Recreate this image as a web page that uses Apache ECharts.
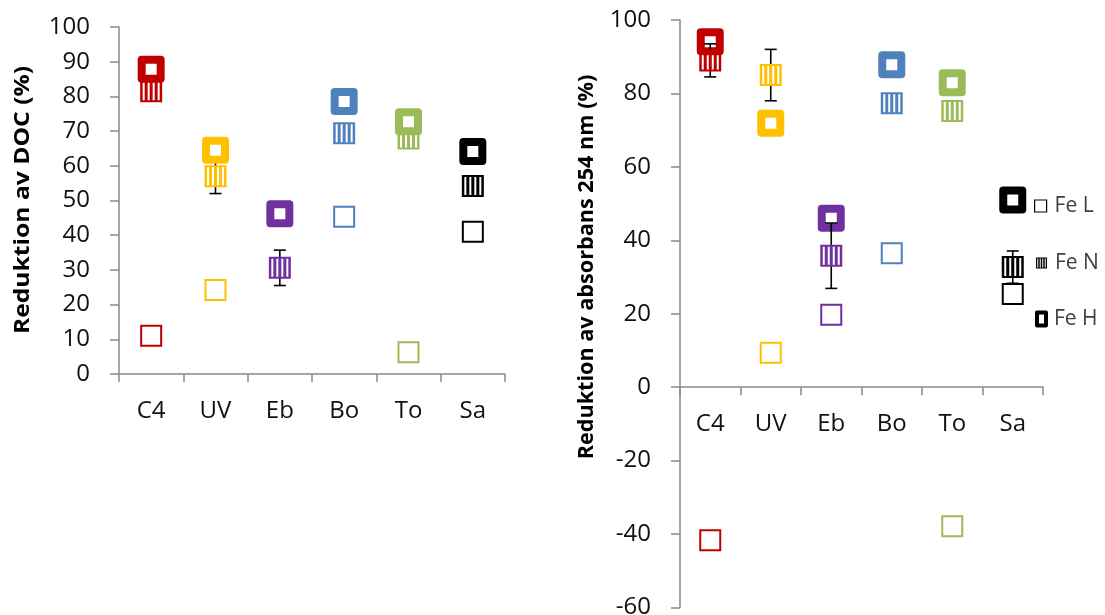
<!DOCTYPE html>
<html>
<head>
<meta charset="utf-8">
<script src="https://cdn.jsdelivr.net/npm/echarts@6/dist/echarts.min.js"></script>
<style>
  html, body { margin: 0; padding: 0; background: #fff; }
  #chart { width: 1105px; height: 615px; }
</style>
</head>
<body>
<div id="chart"></div>
<script>
// Treatment categories
const categories = ['C4', 'UV', 'Eb', 'Bo', 'To', 'Sa'];

// Reduction of DOC (%)
const docFeL = [11, 24.2, null, 45.3, 6.3, 41];
const docFeN = [81.5, 57, 30.6, 69.4, 67.9, 54.2];
const docFeH = [87.8, 64.5, 46.2, 78.5, 72.7, 64.1];
const docFeNErr = [null, 5, 5.1, null, null, null];

// Reduction of absorbance at 254 nm (%)
const absFeL = [-41.7, 9.4, 19.7, 36.5, -37.9, 25.4];
const absFeN = [89, 85, 35.8, 77.3, 75.2, 32.7];
const absFeH = [94.1, 71.9, 46, 87.8, 82.9, 51];
const absFeNErr = [4.5, 7, 8.9, null, null, 4.4];

// Axis tick values
const docTicks = { min: 0, max: 100, interval: 10 };
const absTicks = { min: -60, max: 100, interval: 20 };

// One colour per treatment
const catColors = ['#C00000', '#FFC000', '#7030A0', '#4F81BD', '#9BBB59', '#000000'];

// Square with vertical stripes (stripes are holes via opposite winding)
const stripedPath = 'path://M0,0L22,0L22,22L0,22Z' +
  'M2.5,2L2.5,20L4.5,20L4.5,2Z' +
  'M7.5,2L7.5,20L9.5,20L9.5,2Z' +
  'M12.5,2L12.5,20L14.5,20L14.5,2Z' +
  'M17.5,2L17.5,20L19.5,20L19.5,2Z';

const FONT = '"Open Sans", "Noto Sans", sans-serif';
const AXIS_GRAY = '#898989';

// plot areas
const docGrid = { left: 119, top: 27, width: 386, height: 347 };
const absGrid = { left: 680, top: 20, width: 363, height: 587.5 };

function pointsL(vals) {
  return categories.map((c, i) => vals[i] == null ? null : {
    value: [i, vals[i]],
    itemStyle: { color: '#fff', borderColor: catColors[i], borderWidth: 2, opacity: 1 }
  }).filter(Boolean);
}
function pointsN(vals) {
  return categories.map((c, i) => vals[i] == null ? null : {
    value: [i, vals[i]],
    itemStyle: { color: catColors[i], opacity: 1 }
  }).filter(Boolean);
}
function pointsH(vals) {
  return categories.map((c, i) => vals[i] == null ? null : {
    value: [i, vals[i]],
    itemStyle: { color: '#fff', borderColor: catColors[i], borderWidth: 8, borderJoin: 'round', opacity: 1 }
  }).filter(Boolean);
}
function errRanges(vals, errs) {
  return categories.map((c, i) => errs[i] == null ? null : [i, vals[i] - errs[i], vals[i] + errs[i]])
    .filter(Boolean);
}

function renderErr(params, api) {
  const x = api.value(0);
  const top = api.coord([x, api.value(2)]);
  const bot = api.coord([x, api.value(1)]);
  const hw = 6;
  const st = { stroke: '#000', lineWidth: 1.6 };
  return {
    type: 'group',
    children: [
      { type: 'line', shape: { x1: top[0], y1: top[1], x2: bot[0], y2: bot[1] }, style: st },
      { type: 'line', shape: { x1: top[0] - hw, y1: top[1], x2: top[0] + hw, y2: top[1] }, style: st },
      { type: 'line', shape: { x1: bot[0] - hw, y1: bot[1], x2: bot[0] + hw, y2: bot[1] }, style: st }
    ]
  };
}

// category axis; offset lifts it to the zero line when the value range dips below zero
function xAxis(gridIndex, grid, t) {
  const zeroOffset = t.min < 0 ? -grid.height * (-t.min) / (t.max - t.min) : 0;
  return {
    type: 'category', gridIndex, data: categories, boundaryGap: true, position: 'bottom',
    offset: zeroOffset,
    axisLine: { onZero: false, lineStyle: { color: AXIS_GRAY, width: 1.5 } },
    axisTick: { show: true, length: 8, lineStyle: { color: AXIS_GRAY, width: 1.5 } },
    axisLabel: { color: '#111', fontFamily: FONT, fontSize: 24, margin: 25 },
    splitLine: { show: false }
  };
}
function yAxis(gridIndex, t) {
  return {
    type: 'value', gridIndex, min: t.min, max: t.max, interval: t.interval,
    axisLine: { show: true, lineStyle: { color: AXIS_GRAY, width: 1.5 } },
    axisTick: { show: true, length: 9, lineStyle: { color: AXIS_GRAY, width: 1.5 } },
    axisLabel: { color: '#111', fontFamily: FONT, fontSize: 24, margin: 29 },
    splitLine: { show: false }
  };
}

const chart = echarts.init(document.getElementById('chart'), null, { renderer: 'canvas' });

const legendText = { color: '#404040', fontFamily: FONT, fontSize: 21, lineHeight: 22, padding: [0, 0, 0, 3] };

chart.setOption({
  backgroundColor: '#fff',
  animation: false,
  grid: [
    Object.assign({ outerBoundsMode: 'none', containLabel: false }, docGrid),
    Object.assign({ outerBoundsMode: 'none', containLabel: false }, absGrid)
  ],
  xAxis: [xAxis(0, docGrid, docTicks), xAxis(1, absGrid, absTicks)],
  yAxis: [yAxis(0, docTicks), yAxis(1, absTicks)],
  legend: [
    {
      left: 1029, top: 190, itemWidth: 12, itemHeight: 12, selectedMode: false,
      textStyle: legendText,
      data: [{ name: 'Fe L', icon: 'rect', itemStyle: { color: '#fff', borderColor: '#000', borderWidth: 1.2 } }]
    },
    {
      left: 1031, top: 247, itemWidth: 11, itemHeight: 13, selectedMode: false,
      textStyle: legendText,
      data: [{ name: 'Fe N', icon: stripedPath, itemStyle: { color: '#000' } }]
    },
    {
      left: 1030, top: 303, itemWidth: 9, itemHeight: 13, selectedMode: false,
      textStyle: legendText,
      data: [{ name: 'Fe H', icon: 'rect', itemStyle: { color: '#fff', borderColor: '#000', borderWidth: 4, borderJoin: 'round' } }]
    }
  ],
  graphic: [
    {
      type: 'text', x: 23, y: 200, rotation: Math.PI / 2, scaleX: 1.12,
      style: { text: 'Reduktion av DOC (%)', font: 'bold 22px ' + FONT, fill: '#000', align: 'center', verticalAlign: 'middle' }
    },
    {
      type: 'text', x: 587, y: 267, rotation: Math.PI / 2, scaleX: 1.03,
      style: { text: 'Reduktion av absorbans 254 nm (%)', font: 'bold 21px ' + FONT, fill: '#000', align: 'center', verticalAlign: 'middle' }
    }
  ],
  series: [
    // DOC panel: open squares, error bars, striped, then thick squares on top
    { name: 'Fe L', type: 'scatter', xAxisIndex: 0, yAxisIndex: 0, symbol: 'rect', symbolSize: 20, z: 2,
      itemStyle: { color: '#fff', borderColor: '#000', borderWidth: 2, opacity: 1 }, data: pointsL(docFeL) },
    { name: 'Fe N err', type: 'custom', xAxisIndex: 0, yAxisIndex: 0, z: 3,
      renderItem: renderErr, data: errRanges(docFeN, docFeNErr) },
    { name: 'Fe N', type: 'scatter', xAxisIndex: 0, yAxisIndex: 0, symbol: stripedPath, symbolSize: 22, z: 4,
      itemStyle: { color: '#000', opacity: 1 }, data: pointsN(docFeN) },
    { name: 'Fe H', type: 'scatter', xAxisIndex: 0, yAxisIndex: 0, symbol: 'rect', symbolSize: 19, z: 5,
      itemStyle: { color: '#fff', borderColor: '#000', borderWidth: 8, opacity: 1 }, data: pointsH(docFeH) },

    // Absorbance panel
    { name: 'Fe L', type: 'scatter', xAxisIndex: 1, yAxisIndex: 1, symbol: 'rect', symbolSize: 20, z: 2,
      itemStyle: { color: '#fff', borderColor: '#000', borderWidth: 2, opacity: 1 }, data: pointsL(absFeL) },
    { name: 'Fe H', type: 'scatter', xAxisIndex: 1, yAxisIndex: 1, symbol: 'rect', symbolSize: 19, z: 3,
      itemStyle: { color: '#fff', borderColor: '#000', borderWidth: 8, opacity: 1 }, data: pointsH(absFeH) },
    { name: 'Fe N err', type: 'custom', xAxisIndex: 1, yAxisIndex: 1, z: 4,
      renderItem: renderErr, data: errRanges(absFeN, absFeNErr) },
    { name: 'Fe N', type: 'scatter', xAxisIndex: 1, yAxisIndex: 1, symbol: stripedPath, symbolSize: 22, z: 5,
      itemStyle: { color: '#000', opacity: 1 }, data: pointsN(absFeN) }
  ]
});
</script>
</body>
</html>
